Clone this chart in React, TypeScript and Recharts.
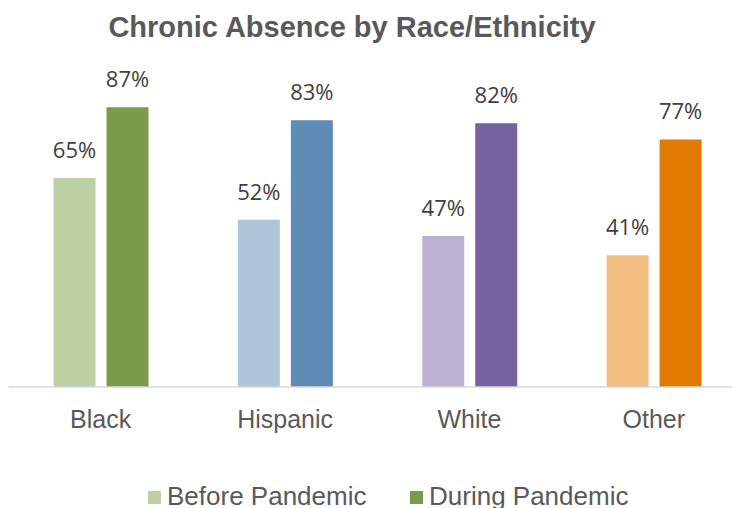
import { BarChart, Bar, XAxis, YAxis, Cell, LabelList, Legend } from "recharts"

const categories = ["Black", "Hispanic", "White", "Other"]
const beforePandemic = [65, 52, 47, 41]
const duringPandemic = [87, 83, 82, 77]
const beforeColors = ["#bdcfa3", "#afc5da", "#bcb1d1", "#f2bd80"]
const duringColors = ["#7a9c4a", "#5f8bb4", "#7862a0", "#e07b00"]
const seriesNames = ["Before Pandemic", "During Pandemic"]

const data = categories.map((name, i) => ({
  name,
  before: beforePandemic[i],
  during: duringPandemic[i],
}))

const sans = "'Liberation Sans', Arial, sans-serif"

function LegendContent() {
  const items = [
    { label: seriesNames[0], color: beforeColors[0], left: 0 },
    { label: seriesNames[1], color: duringColors[0], left: 262 },
  ]
  return (
    <div style={{ position: "relative", height: 61 }}>
      {items.map((item) => (
        <div
          key={item.label}
          style={{
            position: "absolute",
            left: item.left,
            top: 34,
            display: "flex",
            alignItems: "center",
            fontFamily: sans,
            fontSize: 26,
            color: "#595959",
            lineHeight: "30px",
            whiteSpace: "nowrap",
          }}
        >
          <span style={{ display: "inline-block", width: 13, height: 13, background: item.color, marginRight: 6, marginTop: 2 }} />
          {item.label}
        </div>
      ))}
    </div>
  )
}

export default function App() {
  return (
    <div style={{ position: "absolute", left: 0, top: 0, width: 732, height: 508, overflow: "hidden", background: "#fff" }}>
      <svg width={732} height={60} style={{ position: "absolute", left: 0, top: 0 }}>
        <text x={352} y={37} textAnchor="middle" fontFamily={sans} fontWeight="bold" fontSize={29} fill="#595959">
          Chronic Absence by Race/Ethnicity
        </text>
      </svg>
      <BarChart
        width={746}
        height={508}
        data={data}
        margin={{ top: 65.5, right: 0, left: 8.5, bottom: 0 }}
        barSize={42}
        barGap={11}
      >
        <XAxis
          dataKey="name"
          axisLine={{ stroke: "#d9d9d9", strokeWidth: 1.5 }}
          tickLine={false}
          tickSize={0}
          tickMargin={23}
          height={60}
          interval={0}
          tick={{ fontFamily: sans, fontSize: 25, fill: "#595959" }}
        />
        <YAxis hide domain={[0, 100]} />
        <Legend verticalAlign="bottom" height={61} wrapperStyle={{ left: 148, width: 600 }} content={() => <LegendContent />} />
        <Bar dataKey="before" name={seriesNames[0]} isAnimationActive={false}>
          {data.map((d, i) => (
            <Cell key={d.name} fill={beforeColors[i]} />
          ))}
          <LabelList
            dataKey="before"
            position="top"
            offset={20}
            formatter={(v: number) => `${v}%`}
            style={{ fontFamily: "'Open Sans', sans-serif", fontSize: 22, fill: "#404040" }}
          />
        </Bar>
        <Bar dataKey="during" name={seriesNames[1]} isAnimationActive={false}>
          {data.map((d, i) => (
            <Cell key={d.name} fill={duringColors[i]} />
          ))}
          <LabelList
            dataKey="during"
            position="top"
            offset={20}
            formatter={(v: number) => `${v}%`}
            style={{ fontFamily: "'Open Sans', sans-serif", fontSize: 22, fill: "#404040" }}
          />
        </Bar>
      </BarChart>
    </div>
  )
}
